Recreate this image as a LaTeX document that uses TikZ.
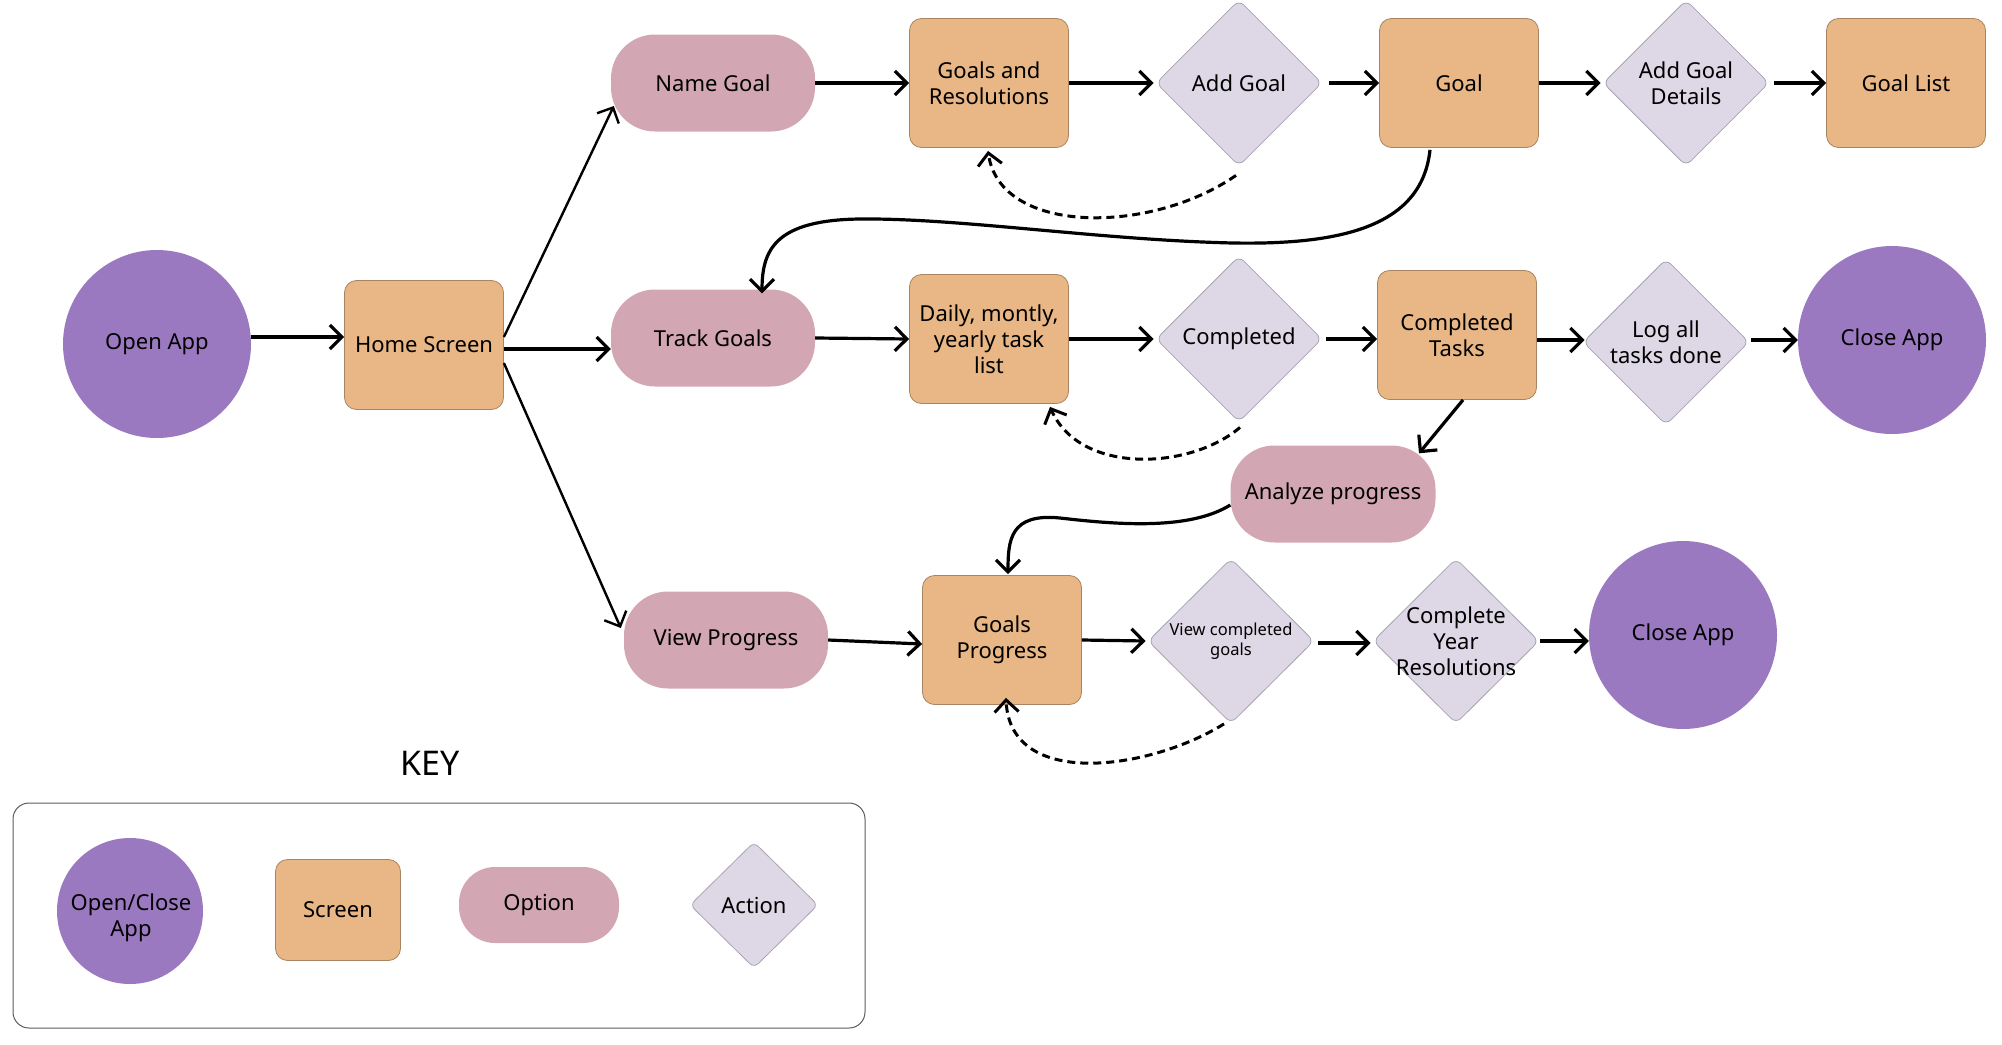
\documentclass[tikz,border=0pt]{standalone}
\usepackage{fontspec}
\setmainfont{Noto Sans}
\usetikzlibrary{shapes.geometric,arrows.meta,calc}
\definecolor{appc}{HTML}{9B79C0}
\definecolor{scrc}{HTML}{E9B685}
\definecolor{scrd}{HTML}{A98462}
\definecolor{optc}{HTML}{D2A6B3}
\definecolor{actc}{HTML}{DDD7E6}
\definecolor{actd}{HTML}{A9A4B2}
\definecolor{keyd}{HTML}{5A5A5A}
\begin{document}
\begin{tikzpicture}[x=1pt,y=-1pt,
  every node/.style={font=\fontsize{22}{26}\selectfont, align=center, text=black},
  appnode/.style={circle, fill=appc, minimum size=188pt, inner sep=0pt},
  scr/.style={rectangle, rounded corners=12pt, fill=scrc, draw=scrd, line width=0.8pt, minimum width=159pt, minimum height=129pt, inner sep=0pt},
  opt/.style={rectangle, rounded corners=44pt, fill=optc, minimum width=204pt, minimum height=97pt, inner sep=0pt},
  actshape/.style={diamond, rounded corners=7pt, fill=actc, draw=actd, line width=0.8pt, minimum width=166pt, minimum height=166pt, inner sep=0pt},
  act/.style={actshape, label={center:#1}},
  actsmall/.style={actshape, label={[font=\fontsize{16.5}{20}\selectfont]center:#1}},
  conn/.style={line width=3.2pt, -{Straight Barb[length=12pt,width=24pt]}},
  thinconn/.style={conn, line width=2.4pt},
  dashconn/.style={conn, line width=3pt, dash pattern=on 8pt off 5pt},
]
\useasboundingbox (0,0) rectangle (2002,1044);

% nodes
\node[appnode] (oa) at (157,344) {Open App};
\node[scr] (hs) at (424,345) {Home Screen};
\node[opt] (ng) at (713,83) {Name Goal};
\node[scr] (gr) at (989,83) {Goals and\\Resolutions};
\node[act={Add Goal}] (ag) at (1239,83) {};
\node[scr] (gl) at (1459,83) {Goal};
\node[act={Add Goal\\Details}] (agd) at (1686,83) {};
\node[scr] (glist) at (1906,83) {Goal List};

\node[opt] (tg) at (713,338) {Track Goals};
\node[scr] (dl) at (989,339) {Daily, montly,\\yearly task\\list};
\node[act={Completed}] (cp) at (1239,339) {};
\node[scr] (ct) at (1457,335) {Completed\\Tasks};
\node[act={Log all\\tasks done}] (lat) at (1666,342) {};
\node[appnode] (ca1) at (1892,340) {Close App};

\node[opt, minimum width=205pt] (ap) at (1333,494) {Analyze progress};

\node[opt] (vp) at (726,640) {View Progress};
\node[scr] (gp) at (1002,640) {Goals\\Progress};
\node[actsmall={View completed\\goals}, minimum height=165pt] (vcg) at (1231,641) {};
\node[act={Complete\\Year\\Resolutions}, minimum height=165pt] (cyr) at (1456,641) {};
\node[appnode] (ca2) at (1683,635) {Close App};

% key
\node[font=\fontsize{34}{40}\selectfont] (keyt) at (430,763) {KEY};
\node[draw=keyd, line width=1pt, rounded corners=16pt, minimum width=852pt, minimum height=225pt, inner sep=0pt] (keybox) at (439,915.5) {};
\node[appnode, minimum size=146pt] (kapp) at (130,911) {};
\node (kappt) at (131,918) {Open/Close\\App};
\node[scr, minimum width=125pt, minimum height=101pt] (kscr) at (338,910) {Screen};
\node[opt, minimum width=160pt, minimum height=76pt, rounded corners=36pt] (kopt) at (539,905) {Option};
\node[act={Action}, minimum width=128pt, minimum height=126pt, rounded corners=6pt] (kact) at (754,905) {};

% connectors: top row
\draw[conn] ($(oa.east)+(0,-7)$) -- ($(hs.west)+(0,-8)$);
\draw[thinconn] ($(hs.east)+(0,-8)$) -- ($(ng.west)+(3,23)$);
\draw[conn] ($(hs.east)+(0,4)$) -- ($(tg.west)+(0,11)$);
\draw[thinconn] ($(hs.east)+(0,18)$) -- ($(vp.west)+(-3,-12)$);

\draw[conn] (ng.east) -- (gr.west);
\draw[conn] (gr.east) -- ($(ag.west)+(-2,0)$);
\draw[conn] ($(ag.east)+(7,0)$) -- (gl.west);
\draw[conn] (gl.east) -- ($(agd.west)+(-2,0)$);
\draw[conn] ($(agd.east)+(5,0)$) -- (glist.west);
\draw[dashconn] ($(ag.south)+(-3,9)$) .. controls (1150,235) and (1000,235) .. ($(gr.south)+(-1,3)$);

\draw[conn] ($(gl.south)+(-29,2)$) .. controls (1422,225) and (1345,245) .. (1233,243)
  .. controls (1100,240) and (960,218) .. (860,219)
  .. controls (775,220) and (762,250) .. ($(tg.north)+(49,4)$);

% middle row
\draw[conn] (tg.east) -- (dl.west);
\draw[conn] (dl.east) -- ($(cp.west)+(-2,0)$);
\draw[conn] ($(cp.east)+(4,0)$) -- (ct.west |- cp.east);
\draw[conn] ($(ct.east)+(0,5)$) -- ($(lat.west)+(2,-2)$);
\draw[conn] ($(lat.east)+(2,-2)$) -- (ca1.west);
\draw[dashconn] ($(cp.south)+(1,5)$) .. controls (1190,470) and (1080,475) .. ($(dl.south)+(61,3)$);
\draw[conn] ($(ct.south)+(6,0)$) -- ($(ap.north)+(86,8)$);
\draw[conn] ($(ap.west)+(0,11)$) .. controls (1190,530) and (1120,525) .. (1060,518)
  .. controls (1010,513) and (1008,540) .. ($(gp.north)+(6,-1)$);

% bottom row
\draw[conn] (vp.east) -- ($(gp.west)+(0,4)$);
\draw[conn] (gp.east) -- ($(vcg.west)+(-2,0)$);
\draw[conn] ($(vcg.east)+(4,2)$) -- ($(cyr.west)+(-2,2)$);
\draw[conn] ($(cyr.east)+(1,0)$) -- (ca2.west |- cyr.east);
\draw[dashconn] ($(vcg.south)+(-7,0)$) .. controls (1150,770) and (1010,790) .. ($(gp.south)+(4,-7)$);
\end{tikzpicture}
\end{document}
